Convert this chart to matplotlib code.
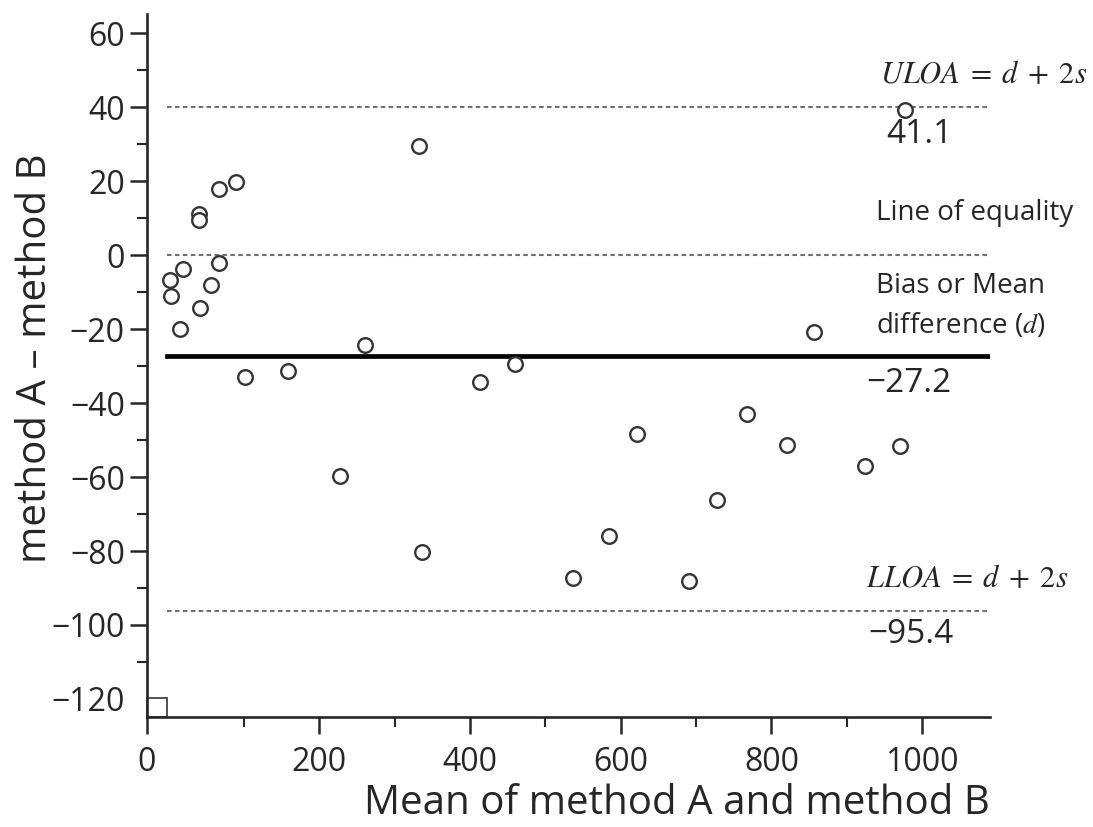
#!/usr/bin/env python3
"""Bland-Altman plot: method A vs method B."""

import matplotlib
matplotlib.use("Agg")
import matplotlib.pyplot as plt
from matplotlib.patches import Rectangle

# mean of the two methods (x) and their difference (y)
mean_ab = [89, 67, 40, 40, 67, 20, 2, 57, 4, 42, 15,
           261, 101, 159, 413, 227, 337, 333, 460,
           621, 768, 821, 728, 585, 537, 691,
           856, 971, 924, 977]
diff_ab = [19.9, 17.8, 11.1, 9.5, -2.0, -3.7, -6.8, -8.0, -11.0, -14.3, -20.1,
           -24.4, -33.0, -31.4, -34.3, -59.7, -80.2, 29.5, -29.5,
           -48.3, -42.9, -51.2, -66.1, -75.9, -87.3, -88.1,
           -20.9, -51.5, -57.1, 39.3]

# reference lines as drawn, and their printed values
uloa_line, equality_line, bias_line, lloa_line = 40.0, 0.0, -27.2, -96.3
uloa_text, bias_text, lloa_text = "41.1", "\u221227.2", "\u221295.4"

x_ticks = [200, 400, 600, 800, 1000]
y_ticks = [-120, -100, -80, -60, -40, -20, 0, 20, 40, 60]

plt.rcParams["font.family"] = ["Open Sans", "DejaVu Sans"]
plt.rcParams["mathtext.fontset"] = "stix"
ink = "#262626"

fig = plt.figure(figsize=(10.93, 8.27), dpi=100)
ax = fig.add_axes([0.1345, 0.1334, 0.7713, 0.8496])

xmin, xmax = -28.4, 1090
ax.set_xlim(xmin, xmax)
ax.set_ylim(-124.8, 65.2)

# reference lines start just right of the corner box
start = 0.0234
dots = dict(color="#707070", lw=1.5, linestyle=(0, (2.2, 1.6)))
ax.axhline(uloa_line, xmin=start, **dots)
ax.axhline(equality_line, xmin=start, **dots)
ax.axhline(lloa_line, xmin=start, **dots)
ax.axhline(bias_line, xmin=start, color="black", lw=3.4)

ax.plot(mean_ab, diff_ab, "o", ms=10.5, mfc="white", mec="#333333", mew=1.7,
        linestyle="none", zorder=3)

# little box in the origin corner
ax.add_patch(Rectangle((0, 0), start, 0.027, transform=ax.transAxes,
                       fill=False, ec="#333333", lw=1.2, clip_on=False))

# ticks: "0" sits at the origin corner
ax.set_xticks([xmin] + x_ticks)
ax.set_xticklabels(["0"] + [str(t) for t in x_ticks])
ax.set_xticks([100, 300, 500, 700, 900], minor=True)
ax.set_yticks(y_ticks)
ax.set_yticklabels([str(t).replace("-", "\u2212") for t in y_ticks])
ax.set_yticks(list(range(-110, 60, 20)), minor=True)
ax.yaxis.get_major_ticks()[0].tick1line.set_visible(False)

ax.tick_params(which="major", length=12, width=1.8, color=ink,
               labelsize=23, labelcolor=ink)
ax.tick_params(which="minor", length=7, width=1.5, color=ink)
ax.tick_params(axis="x", which="major", pad=9)
ax.tick_params(axis="y", which="major", pad=4)

for side in ["top", "right"]:
    ax.spines[side].set_visible(False)
for side in ["left", "bottom"]:
    ax.spines[side].set_linewidth(1.9)
    ax.spines[side].set_color(ink)

ax.set_xlabel("Mean of method A and method B", fontsize=29, color=ink)
ax.xaxis.set_label_coords(0.629, -0.095)
ax.set_ylabel("method A \u2013 method B", fontsize=29, color=ink)
ax.yaxis.set_label_coords(-0.108, 0.51)

# annotations on the right
note = dict(color=ink, va="center", ha="left", clip_on=False)
ax.text(944, uloa_line + 8.8, r"$ULOA\;=\;d\;+\;2s$", fontsize=22, **note)
ax.text(952, uloa_line - 7.5, uloa_text, fontsize=24, **note)
ax.text(939, equality_line + 11.4, "Line of equality", fontsize=20, **note)
ax.text(939, bias_line + 18.8, "Bias or Mean", fontsize=20, **note)
ax.text(939, bias_line + 8.2, r"difference ($d$)", fontsize=20, **note)
ax.text(926, bias_line - 7.5, bias_text, fontsize=24, **note)
ax.text(926, lloa_line + 8.8, r"$LLOA\;=\;d\;+\;2s$", fontsize=22, **note)
ax.text(928, lloa_line - 6.4, lloa_text, fontsize=24, **note)

fig.savefig("out.png", dpi=100)
